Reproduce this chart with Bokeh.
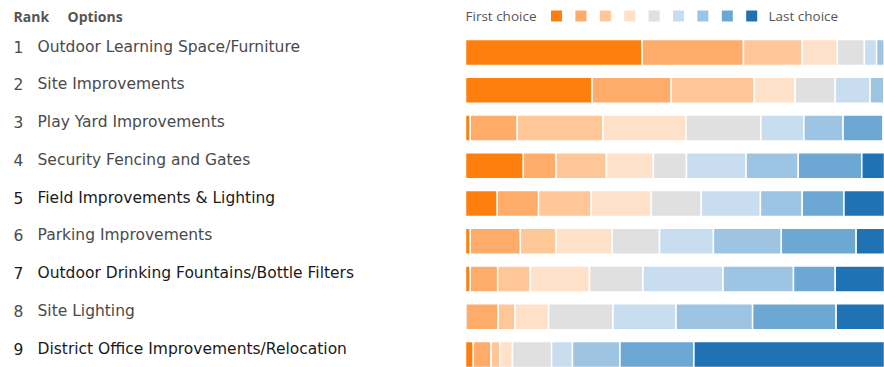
from bokeh.plotting import figure
from bokeh.models import Range1d, ColumnDataSource
from bokeh.embed import file_html
from bokeh.resources import INLINE
from bokeh.core.properties import value

# ---------------- data ----------------
ranks = [1, 2, 3, 4, 5, 6, 7, 8, 9]
options = [
    "Outdoor Learning Space/Furniture",
    "Site Improvements",
    "Play Yard Improvements",
    "Security Fencing and Gates",
    "Field Improvements & Lighting",
    "Parking Improvements",
    "Outdoor Drinking Fountains/Bottle Filters",
    "Site Lighting",
    "District Office Improvements/Relocation",
]
choice_keys = ["c1", "c2", "c3", "c4", "c5", "c6", "c7", "c8", "c9"]
# share of respondents (%) giving each option choice 1 (first) ... 9 (last)
c1 = [40.6, 29.1, 1.1, 13.3, 7.3, 1.1, 1.1, 0.1, 1.8]
c2 = [23.3, 18.2, 10.8, 7.5, 9.5, 11.5, 6.3, 7.4, 4.1]
c3 = [13.5, 19.1, 19.7, 11.6, 12.1, 8.2, 7.5, 3.9, 2.0]
c4 = [8.1, 9.4, 19.1, 10.8, 13.8, 12.9, 13.6, 7.7, 2.9]
c5 = [6.2, 9.2, 17.2, 7.6, 11.5, 10.9, 12.3, 14.8, 9.0]
c6 = [2.8, 8.0, 9.9, 13.7, 13.6, 12.4, 18.4, 14.5, 4.8]
c7 = [2.3, 3.2, 9.0, 12.0, 9.6, 15.6, 16.2, 17.6, 10.9]
c8 = [1.8, 2.3, 9.2, 14.6, 9.6, 17.2, 9.6, 19.2, 17.0]
c9 = [1.4, 1.5, 4.0, 8.9, 13.0, 10.2, 15.0, 14.8, 47.5]
legend_first = "First choice"
legend_last = "Last choice"
header_rank = "Rank"
header_options = "Options"

# ---------------- styles ----------------
colors = ["#FF7F0E", "#FFAB6A", "#FFC698", "#FFE1CA", "#E0E0E0",
          "#C8DEF0", "#9DC4E3", "#6DA7D4", "#1F73B5"]
label_colors = ["#4a4a4a", "#4a4a4a", "#4a4a4a", "#4a4a4a", "#1a1a1a",
                "#4a4a4a", "#1a1a1a", "#4a4a4a", "#1a1a1a"]
W, H = 884, 367
PX0 = 465          # pixel where 0 % sits
SCALE = 4.35       # pixels per percent
ROW0 = 52          # pixel of first row centre
STEP = 37.75       # pixels between rows


def px(fx):
    return (fx - PX0) / SCALE


def py(fy):
    return 1 + (fy - ROW0) / STEP


p = figure(width=W, height=H, output_backend="svg", toolbar_location=None,
           x_range=Range1d(px(0), px(W)), y_range=Range1d(py(H), py(0)),
           min_border=0)
p.axis.visible = False
p.grid.visible = False
p.outline_line_color = None
p.background_fill_color = "white"

src = ColumnDataSource(dict(rank=ranks, c1=c1, c2=c2, c3=c3, c4=c4, c5=c5,
                            c6=c6, c7=c7, c8=c8, c9=c9))
p.hbar_stack(choice_keys, y="rank", height=26 / STEP, color=colors,
             line_color="white", line_width=1.5, source=src)

# row labels
lab = ColumnDataSource(dict(rank=ranks, r=[str(r) for r in ranks],
                            opt=options, col=label_colors))
p.text(x=px(13), y="rank", text="r", source=lab, text_color="col",
       text_font=value("DejaVu Sans"), text_font_size="15.5px",
       text_baseline="middle", y_offset=-6)
p.text(x=px(37), y="rank", text="opt", source=lab, text_color="col",
       text_font=value("DejaVu Sans"), text_font_size="15.5px",
       text_baseline="middle", y_offset=-6)

# header
p.text(x=[px(13), px(67)], y=[py(16), py(16)], text=[header_rank, header_options],
       text_color="#555555", text_font=value("Open Sans"),
       text_font_size="14px", text_font_style="bold", text_baseline="middle")

# legend
p.text(x=[px(465)], y=[py(15.5)], text=[legend_first], text_color="#555555",
       text_font=value("Open Sans"), text_font_size="13.5px",
       text_baseline="middle")
p.rect(x=[px(556 + 24.4 * k) for k in range(len(colors))],
       y=[py(15.5)] * len(colors), width=11, height=11, width_units="screen",
       height_units="screen", color=colors, line_color=None)
p.text(x=[px(768)], y=[py(15.5)], text=[legend_last], text_color="#555555",
       text_font=value("Open Sans"), text_font_size="13.5px",
       text_baseline="middle")

open("out.html", "w").write(file_html(p, INLINE))
